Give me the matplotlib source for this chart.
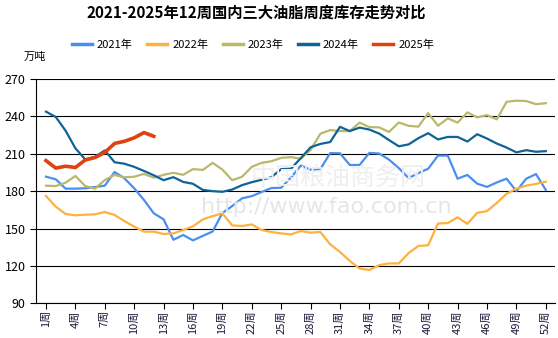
import matplotlib
matplotlib.use("Agg")
import matplotlib.pyplot as plt
import numpy as np

plt.rcParams['font.family'] = ['Noto Sans CJK SC', 'DejaVu Sans']

weeks = list(range(1, 53))
y2021 = [191.6, 189.5, 182, 182, 182.3, 183.3, 184.4, 195.4, 190.3, 182.3, 172.9, 162.2, 157.4, 141, 144.8, 140.5,
         144.1, 147.6, 162.5, 168, 174.2, 176, 179.3, 182.5, 182.7, 191, 200.5, 197.2, 197.8, 210.5, 210.4, 201,
         201, 210.7, 210.2, 205.3, 198.5, 190.5, 194.5, 198, 208.5, 208.5, 190, 193, 186, 183.4, 187, 190,
         180, 190, 193.7, 181]
y2022 = [176.1, 167.5, 161.7, 160.6, 161.1, 161.4, 163.3, 160.9, 156, 151.5, 147.5, 147.5, 145.6, 146.1, 148.8, 151.8,
         157.3, 160, 162.1, 152.5, 152, 153.3, 148.8, 147.2, 146.1, 145.3, 148, 146.7, 147.2, 137.3, 131.2, 124,
         117.9, 116.8, 120.6, 122, 122, 130.3, 136, 136.6, 154, 154.4, 159, 153.8, 162.6, 164, 170.6, 177.9,
         182, 184.4, 185.8, 187.6]
y2023 = [184.4, 184.1, 186.8, 192.2, 184.1, 182, 188.9, 193, 191.1, 191.6, 193.8, 190.8, 193.1, 194.7, 193.1, 197.7,
         197, 202.7, 197.3, 188.8, 191.5, 199.5, 202.7, 204, 206.7, 207.3, 206, 213, 226.1, 229, 228.2, 228.2,
         235, 231.4, 231.2, 227.5, 235.1, 232.4, 231.8, 242.6, 232.5, 238.4, 235, 243.2, 239.2, 241, 237.6, 251.7,
         252.6, 252.3, 249.8, 250.6]
y2024 = [243.8, 239.5, 228.5, 214.4, 205.5, 207.5, 212.7, 203.2, 202, 199.5, 196.2, 192.7, 188.8, 191.2, 187.4, 185.9,
         181, 180, 179.5, 181.3, 184.8, 187.2, 189.1, 191.2, 197.7, 198, 206.5, 215.2, 217.9, 219.4, 231.6, 228.2,
         231, 229.4, 226.2, 221, 216, 217.5, 222.5, 226.5, 221.5, 223.5, 223.5, 219.8, 225.7, 222.2, 218.2, 215,
         211.1, 212.9, 211.6, 212.1]
y2025 = [204.5, 198.5, 200, 199, 205, 207, 211, 218.3, 220, 222.8, 227, 224]

series_names = ['2021年', '2022年', '2023年', '2024年', '2025年']
series_vals = [y2021, y2022, y2023, y2024, y2025]
colors = ['#4a8ff0', '#fdb13f', '#b9b86c', '#0f6495', '#e0420f']
widths = [1.6, 1.6, 1.6, 1.6, 2.6]

yticks = [90, 120, 150, 180, 210, 240, 270]
xtick_weeks = list(range(1, 53, 3))
xtick_labels = [f'{w}周' for w in xtick_weeks]

fig = plt.figure(figsize=(5.58, 3.38), dpi=100)
ax = fig.add_axes([36 / 558, 1 - 303.3 / 338, (555 - 36) / 558, (303.3 - 79) / 338])

# watermark
fig.text(326 / 558, 1 - 207 / 338, 'http://www.fao.com.cn', fontsize=16, color='#e6e6e6',
         ha='center', va='center', family='DejaVu Sans', zorder=0)
fig.text(338 / 558, 1 - 178 / 338, '中国粮油商务网', fontsize=18, color='#efefef',
         ha='center', va='center', zorder=0)

for name, vals, c, lw in zip(series_names, series_vals, colors, widths):
    ax.plot(weeks[:len(vals)], vals, color=c, lw=lw, label=name, zorder=3)

ax.set_ylim(90, 270)
ax.set_xlim(-0.02, 52.94)
ax.set_yticks(yticks)
ax.set_yticklabels([str(v) for v in yticks], fontsize=9)
ax.set_xticks(xtick_weeks)
ax.set_xticklabels(xtick_labels, rotation=90, fontsize=8, color='#1a1a3a')
ax.tick_params(axis='both', direction='out', length=4, width=0.8, color='black')
ax.tick_params(axis='x', pad=1)
for y in yticks:
    ax.axhline(y, color='black', lw=0.8, zorder=1)
for s in ['top', 'right']:
    ax.spines[s].set_visible(False)
for s in ['left', 'bottom']:
    ax.spines[s].set_color('black')
    ax.spines[s].set_linewidth(0.8)
ax.patch.set_alpha(0)

fig.text(256 / 558, 1 - 13 / 338, '2021-2025年12周国内三大油脂周度库存走势对比', fontsize=11,
         fontweight='bold', ha='center', va='center')
fig.text(24 / 558, 1 - 57 / 338, '万吨', fontsize=8, ha='left', va='center')

leg = fig.legend(loc='center', bbox_to_anchor=(253 / 558, 1 - 45 / 338), ncol=5, frameon=False,
                 fontsize=8, handlelength=1.8, handletextpad=0.45, columnspacing=1.3)
for h in leg.get_lines():
    h.set_linewidth(2.5)

fig.savefig('out.png', dpi=100)
